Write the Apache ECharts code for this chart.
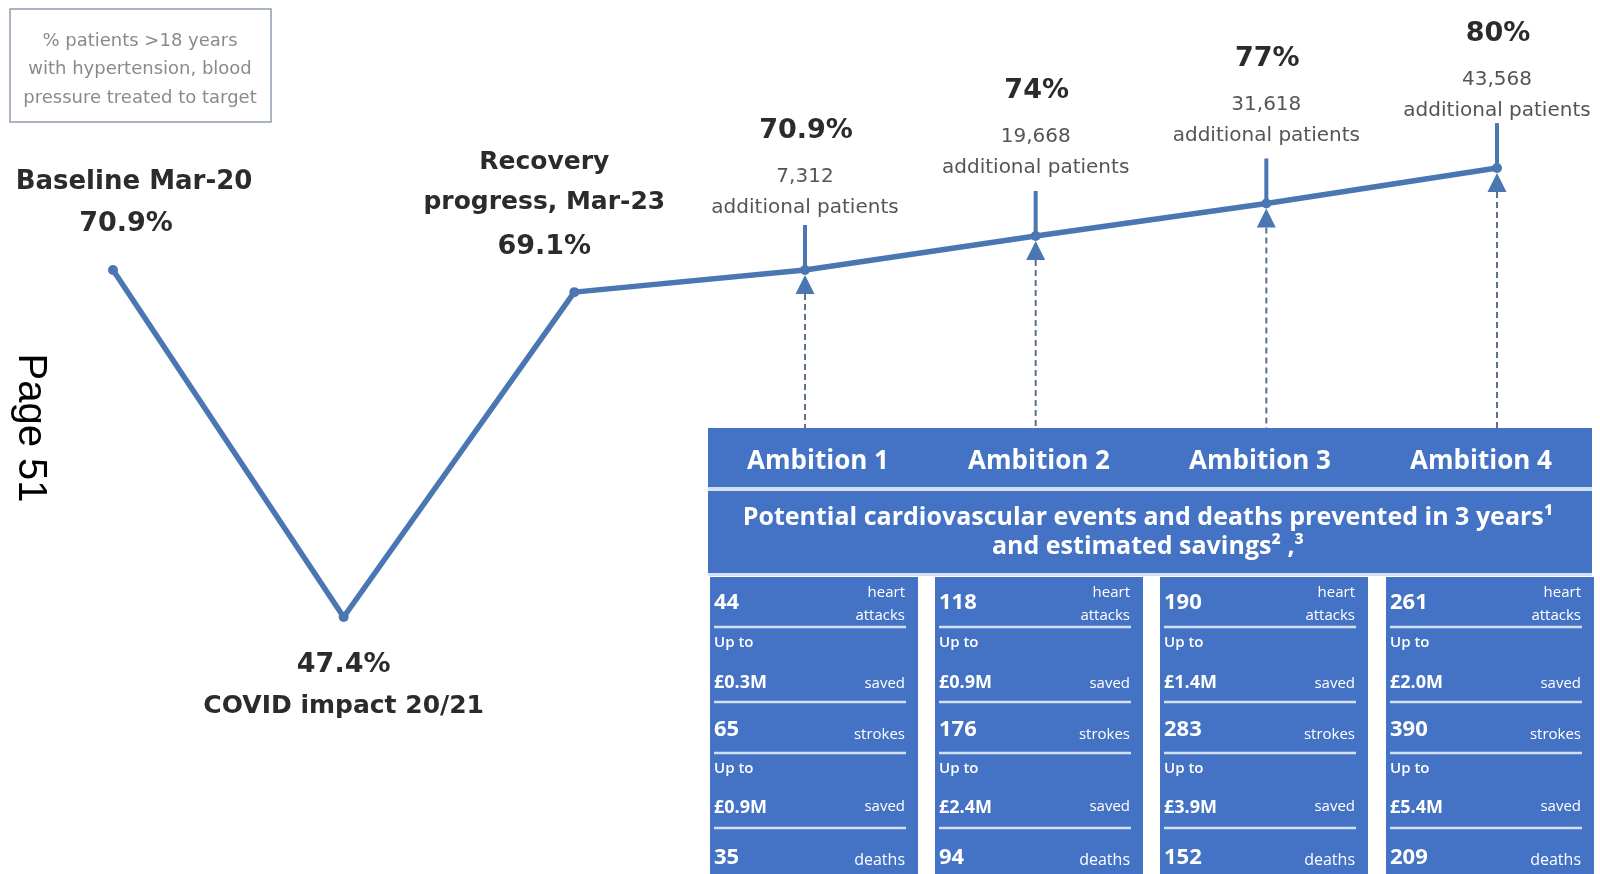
<!DOCTYPE html>
<html><head><meta charset="utf-8">
<script src="https://cdn.jsdelivr.net/npm/echarts@6/dist/echarts.min.js"></script>
<style>html,body{margin:0;padding:0;background:#fff}#c{width:1600px;height:874px}</style>
</head><body><div id="c"></div>
<script>
// ---------------- DATA ----------------
const stageNames = ['Baseline Mar-20', 'COVID impact 20/21', 'Recovery progress, Mar-23', 'Ambition 1', 'Ambition 2', 'Ambition 3', 'Ambition 4'];
const stageLabels = ['70.9%', '47.4%', '69.1%', '70.9%', '74%', '77%', '80%'];
// heights of the line as drawn in the picture (schematic, % scale)
const plottedLevel = [70.9, 47.4, 69.4, 70.9, 73.2, 75.4, 77.8];
const additionalPatients = ['7,312', '19,668', '31,618', '43,568'];
const ambitions = ['Ambition 1', 'Ambition 2', 'Ambition 3', 'Ambition 4'];
const heartAttacks = ['44', '118', '190', '261'];
const heartSavings = ['£0.3M', '£0.9M', '£1.4M', '£2.0M'];
const strokes = ['65', '176', '283', '390'];
const strokeSavings = ['£0.9M', '£2.4M', '£3.9M', '£5.4M'];
const deaths = ['35', '94', '152', '209'];
const legendLines = ['% patients >18 years', 'with hypertension, blood', 'pressure treated to target'];
const tableTitle = ['Potential cardiovascular events and deaths prevented in 3 years\u00B9', 'and estimated savings\u00B2 ,\u00B3'];
const pageLabel = 'Page 51';

// ---------------- STYLE ----------------
const LINE = '#4a77b2';
const BLUE = '#4472c4';
const SEP = '#d4e0f3';
const DARK = '#2b2b2b';
const GREY = '#555555';
const BF = 'DejaVu Sans';
const TF = 'Open Sans';

const chart = echarts.init(document.getElementById('c'), null, {renderer: 'canvas'});
chart.setOption({
  animation: false,
  grid: {left: 113, right: 103, top: 135.6, height: 590.7},
  xAxis: {type: 'value', min: 0, max: 6, show: false},
  yAxis: {type: 'value', min: 40, max: 80, show: false},
  series: [{
    type: 'line',
    data: plottedLevel.map((v, i) => [i, v]),
    symbol: 'circle', symbolSize: 10,
    lineStyle: {width: 5.5, color: LINE},
    itemStyle: {color: LINE},
    z: 5
  }]
});

const P = plottedLevel.map((v, i) => chart.convertToPixel({gridIndex: 0}, [i, v]));

function T(x, y, text, font, fill, align, extra) {
  return Object.assign({
    type: 'text', x: x, y: y, z: 20,
    style: {text: text, font: font, fill: fill, align: align || 'center', verticalAlign: 'middle',
            textAlign: align || 'center', textVerticalAlign: 'middle'}
  }, extra || {});
}
function L(x1, y1, x2, y2, stroke, w, dash, z) {
  return {type: 'line', z: z || 10, shape: {x1, y1, x2, y2}, style: {stroke, lineWidth: w, lineDash: dash || null}};
}
function R(x, y, w, h, fill, z) {
  return {type: 'rect', z: z || 1, shape: {x, y, width: w, height: h}, style: {fill}};
}

const g = [];
// legend box
g.push({type: 'rect', z: 2, shape: {x: 10, y: 9, width: 261, height: 113}, style: {fill: 'none', stroke: '#8e9db0', lineWidth: 1.5}});
legendLines.forEach((t, i) => g.push(T(140, 41 + i * 28.5, t, '18px "' + BF + '"', '#8a8a8a')));

// page label (rotated)
g.push(T(30, 428, pageLabel, '40px "Liberation Sans"', '#000', 'center', {rotation: -Math.PI / 2}));

// left stage labels
const bold = s => 'bold ' + s + 'px "' + BF + '"';
g.push(T(P[0][0] + 21, P[0][1] - 88, stageNames[0], bold(26), DARK));
g.push(T(P[0][0] + 13, P[0][1] - 46, stageLabels[0], bold(27), DARK));
g.push(T(P[1][0], P[1][1] + 48, stageLabels[1], bold(27), DARK));
g.push(T(P[1][0], P[1][1] + 89, stageNames[1], bold(25), DARK));
g.push(T(P[2][0] - 30, P[2][1] - 130, 'Recovery', bold(25), DARK));
g.push(T(P[2][0] - 30, P[2][1] - 90, 'progress, Mar-23', bold(25), DARK));
g.push(T(P[2][0] - 30, P[2][1] - 45, stageLabels[2], bold(27), DARK));

// ambition markers
const pctLift = [139, 145, 145, 134];
const TABLE_TOP = 428;
for (let k = 0; k < 4; k++) {
  const [x, y] = P[3 + k];
  g.push(L(x, y - 45, x, y, LINE, 4, null, 6));
  g.push({type: 'polygon', z: 7, shape: {points: [[x, y + 5], [x - 9.5, y + 24], [x + 9.5, y + 24]]}, style: {fill: LINE}});
  g.push(L(x, y + 24, x, TABLE_TOP, '#5d718c', 2, [6, 4], 3));
  g.push(T(x + 1, y - pctLift[k], stageLabels[3 + k], bold(27), DARK));
  g.push(T(x, y - pctLift[k] + 46, additionalPatients[k], '20px "' + BF + '"', GREY));
  g.push(T(x, y - pctLift[k] + 77, 'additional patients', '20px "' + BF + '"', GREY));
}

// table
const TL = 708, TR = 1592;
g.push(R(TL, TABLE_TOP, TR - TL, 59, BLUE));
g.push(R(TL, 487, TR - TL, 4, SEP));
g.push(R(TL, 491, TR - TL, 82, BLUE));
g.push(R(TL, 573, TR - TL, 3, SEP));
ambitions.forEach((a, i) => g.push(T(818 + i * 221, 462, a, 'bold 26px "' + TF + '"', '#fff')));
g.push(T(1148, 518, tableTitle[0], 'bold 25px "' + TF + '"', '#fff'));
g.push(T(1148, 547, tableTitle[1], 'bold 25px "' + TF + '"', '#fff'));

const colLeft = [710, 935, 1160, 1386];
const colW = 208;
const numF = 'bold 22px "' + TF + '"';
const monF = 'bold 18px "' + TF + '"';
const upF = '600 15px "' + TF + '"';
const lblF = '15px "' + TF + '"';
for (let i = 0; i < 4; i++) {
  const l = colLeft[i], r = l + colW;
  g.push(R(l, 577, colW, 874 - 577, BLUE));
  const lx = l + 4, rx = r - 13;
  g.push(T(lx, 603, heartAttacks[i], numF, '#fff', 'left'));
  g.push(T(rx, 593, 'heart', lblF, '#fff', 'right'));
  g.push(T(rx, 616, 'attacks', lblF, '#fff', 'right'));
  g.push(L(lx, 627, rx + 1, 627, SEP, 2.5));
  g.push(T(lx, 643, 'Up to', upF, '#fff', 'left'));
  g.push(T(lx, 683, heartSavings[i], monF, '#fff', 'left'));
  g.push(T(rx, 684, 'saved', lblF, '#fff', 'right'));
  g.push(L(lx, 702, rx + 1, 702, SEP, 2.5));
  g.push(T(lx, 730, strokes[i], numF, '#fff', 'left'));
  g.push(T(rx, 735, 'strokes', lblF, '#fff', 'right'));
  g.push(L(lx, 753, rx + 1, 753, SEP, 2.5));
  g.push(T(lx, 769, 'Up to', upF, '#fff', 'left'));
  g.push(T(lx, 808, strokeSavings[i], monF, '#fff', 'left'));
  g.push(T(rx, 807, 'saved', lblF, '#fff', 'right'));
  g.push(L(lx, 828, rx + 1, 828, SEP, 2.5));
  g.push(T(lx, 858, deaths[i], numF, '#fff', 'left'));
  g.push(T(rx, 860, 'deaths', '16px "' + TF + '"', '#fff', 'right'));
}

chart.setOption({graphic: {elements: g}});
</script></body></html>
